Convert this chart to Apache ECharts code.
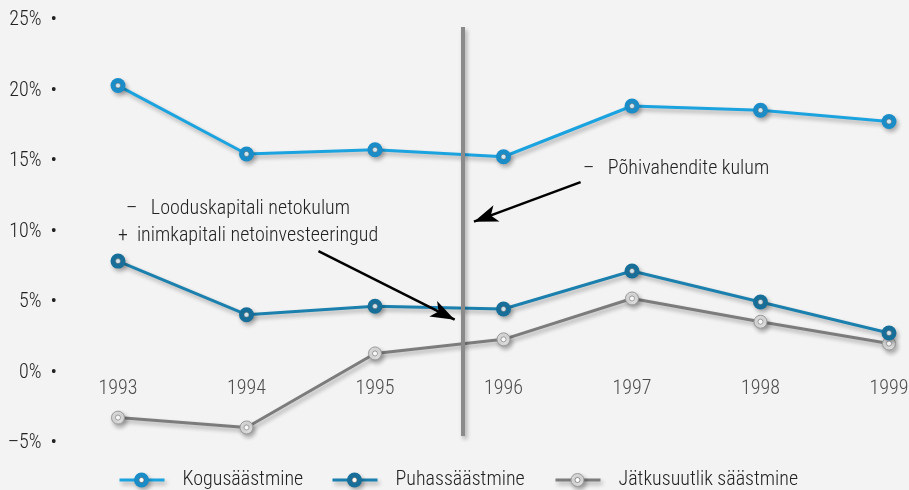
<!DOCTYPE html>
<html lang="et">
<head>
    <meta charset="UTF-8">
    <title>Säästmine</title>
    <script src="https://cdn.jsdelivr.net/npm/echarts@6/dist/echarts.min.js"></script>
    <style>
        html, body { margin: 0; padding: 0; background: #f3f3f3; }
    </style>
</head>
<body>
    <div style="width: 909px; height: 490px" id="main"></div>
    <script type="text/javascript">
        var years = [1993, 1994, 1995, 1996, 1997, 1998, 1999];
        var kogu = [20.35, 15.5, 15.8, 15.3, 18.9, 18.6, 17.8];
        var puhas = [7.9, 4.1, 4.7, 4.5, 7.2, 5.0, 2.8];
        var jatku = [-3.2, -3.9, 1.35, 2.35, 5.25, 3.6, 2.05];
        var names = ['Kogusäästmine', 'Puhassäästmine', 'Jätkusuutlik säästmine'];

        // annotation lines in data coordinates (year, %)
        var divider = [[1995.68, 24.5], [1995.68, -4.5]];
        var arrow1 = [[1996.6, 13.5], [1995.77, 10.7]];
        var arrow2 = [[1994.56, 8.6], [1995.62, 3.75]];

        var FONT = "'Roboto Condensed', 'DejaVu Sans Condensed', sans-serif";
        var FS = 20;

        var lineColors = ['#1ba3e0', '#1b80ad', '#7c7c7c'];
        var ballColors = ['#1a8cc8', '#176f99', '#dcdcdc'];

        var pairs = (arr) => years.map((y, i) => [y, arr[i]]);

        var shadow = {
            shadowColor: 'rgba(0,0,0,0.3)',
            shadowBlur: 4,
            shadowOffsetX: 2,
            shadowOffsetY: 3
        };

        // legend drawn along the bottom edge: icon line, ball, label
        var legendX = [117, 330, 553];
        var legendY = 480;
        var legendGraphic = names.map((name, i) => ({
            type: 'group',
            left: legendX[i],
            top: legendY - 10,
            children: [
                { type: 'line', shape: { x1: 0, y1: 10, x2: 45, y2: 10 },
                  style: Object.assign({ stroke: lineColors[i], lineWidth: 3 }, shadow) },
                { type: 'circle', shape: { cx: 22, cy: 10, r: i === 2 ? 6.5 : 7.5 },
                  style: Object.assign({ fill: ballColors[i], stroke: i === 2 ? '#9a9a9a' : null, lineWidth: 1 }, shadow) },
                { type: 'circle', shape: { cx: 22, cy: 10, r: 2.5 },
                  style: { fill: '#fff', stroke: '#555', lineWidth: 0.6 } },
                { type: 'text', x: 63, y: 10,
                  style: { text: name, font: '300 ' + FS + 'px ' + FONT, fill: '#222', verticalAlign: 'middle' } }
            ]
        }));

        var myChart = echarts.init(document.getElementById('main'));
        var option = {
            backgroundColor: '#f3f3f3',
            animation: false,
            textStyle: { fontFamily: FONT, fontWeight: 300 },
            grid: { left: 118, right: 20, top: 20, bottom: 47 },
            xAxis: {
                type: 'value',
                min: 1993,
                max: 1999,
                interval: 1,
                axisLine: { show: false },
                axisTick: { show: false },
                splitLine: { show: false },
                axisLabel: { show: false }
            },
            yAxis: {
                type: 'value',
                min: -5,
                max: 25,
                interval: 5,
                axisLine: { show: false },
                axisTick: { show: false },
                splitLine: { show: false },
                axisLabel: {
                    margin: 61,
                    fontSize: FS,
                    fontWeight: 300,
                    color: '#222',
                    fontFamily: FONT,
                    formatter: (v) => (v < 0 ? '–' + Math.abs(v) : v) + '%  •'
                }
            },
            series: [
                {
                    name: names[0],
                    type: 'line',
                    data: pairs(kogu),
                    symbol: 'circle',
                    symbolSize: 15,
                    color: lineColors[0],
                    lineStyle: Object.assign({ width: 3, color: lineColors[0] }, shadow),
                    itemStyle: Object.assign({ color: ballColors[0] }, shadow),
                    z: 3
                },
                {
                    name: names[1],
                    type: 'line',
                    data: pairs(puhas),
                    symbol: 'circle',
                    symbolSize: 15,
                    color: lineColors[1],
                    lineStyle: Object.assign({ width: 3, color: lineColors[1] }, shadow),
                    itemStyle: Object.assign({ color: ballColors[1] }, shadow),
                    z: 3
                },
                {
                    name: names[2],
                    type: 'line',
                    data: pairs(jatku),
                    symbol: 'circle',
                    symbolSize: 13,
                    color: lineColors[2],
                    lineStyle: Object.assign({ width: 3, color: lineColors[2] }, shadow),
                    itemStyle: Object.assign({ color: ballColors[2], borderColor: '#9a9a9a', borderWidth: 1 }, shadow),
                    z: 2,
                    markLine: {
                        silent: true,
                        animation: false,
                        label: { show: false },
                        emphasis: { disabled: true },
                        data: [
                            [
                                { coord: divider[0], symbol: 'none' },
                                { coord: divider[1], symbol: 'none',
                                  lineStyle: Object.assign({ color: '#8a8a8a', width: 4, type: 'solid' }, shadow) }
                            ],
                            [
                                { coord: arrow1[0], symbol: 'none' },
                                { coord: arrow1[1], symbol: 'arrow', symbolSize: [13, 24],
                                  lineStyle: { color: '#000', width: 2.5, type: 'solid' } }
                            ],
                            [
                                { coord: arrow2[0], symbol: 'none' },
                                { coord: arrow2[1], symbol: 'arrow', symbolSize: [13, 24],
                                  lineStyle: { color: '#000', width: 2.5, type: 'solid' } }
                            ]
                        ]
                    }
                },
                {
                    // white centre of each marker
                    name: 'centre',
                    type: 'scatter',
                    data: [].concat(pairs(kogu), pairs(puhas), pairs(jatku)),
                    symbol: 'circle',
                    symbolSize: 5,
                    itemStyle: { color: '#ffffff', borderColor: '#555', borderWidth: 0.6 },
                    silent: true,
                    z: 5
                },
                {
                    // year labels sitting on the zero line
                    name: 'years',
                    type: 'scatter',
                    data: years.map((y) => [y, 0]),
                    symbolSize: 1,
                    itemStyle: { color: 'rgba(0,0,0,0)' },
                    silent: true,
                    label: {
                        show: true,
                        position: 'bottom',
                        distance: 6,
                        fontSize: FS,
                        fontWeight: 300,
                        fontFamily: FONT,
                        color: '#222',
                        formatter: (p) => String(p.value[0])
                    },
                    z: 1
                }
            ],
            graphic: [
                { type: 'text', left: 583, top: 159, style: { text: '–   Põhivahendite kulum', font: '300 ' + FS + 'px ' + FONT, fill: '#222' } },
                { type: 'text', left: 126, top: 199, style: { text: '–   Looduskapitali netokulum', font: '300 ' + FS + 'px ' + FONT, fill: '#222' } },
                { type: 'text', left: 118, top: 226, style: { text: '+  inimkapitali netoinvesteeringud', font: '300 ' + FS + 'px ' + FONT, fill: '#222' } }
            ].concat(legendGraphic)
        };
        myChart.setOption(option);
    </script>
</body>
</html>
